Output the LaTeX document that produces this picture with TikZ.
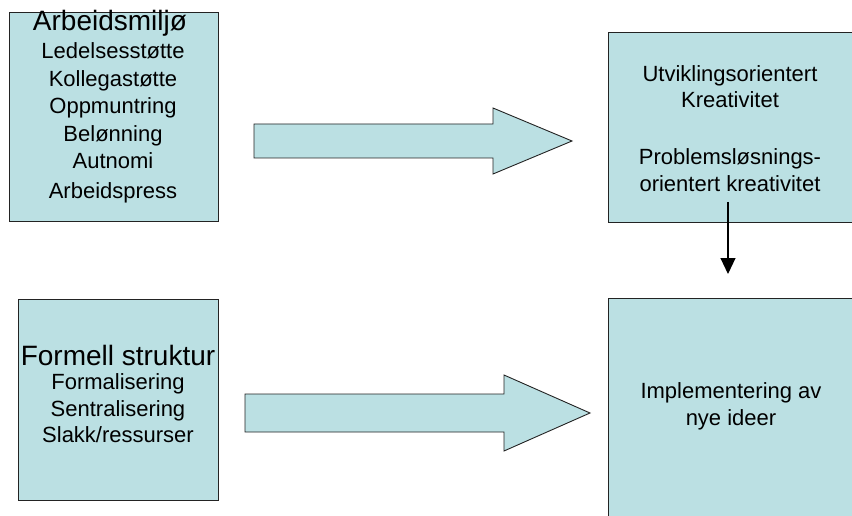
\documentclass[tikz,border=0pt]{standalone}
\usepackage{fontspec}
\setmainfont{Liberation Sans}
\usetikzlibrary{arrows.meta}
\definecolor{boxfill}{RGB}{187,224,227}
\definecolor{edge}{RGB}{35,35,35}
\begin{document}
\begin{tikzpicture}[x=1pt,y=-1pt,
  panel/.style={draw=edge, fill=boxfill, line width=0.9pt, inner sep=0pt, anchor=north west},
  body/.style={anchor=base, inner sep=0pt, font=\fontsize{22}{26}\selectfont},
  head/.style={anchor=base, inner sep=0pt, font=\fontsize{28}{32}\selectfont},
  blockarrow/.style={draw=edge, fill=boxfill, line width=0.9pt, line join=miter},
  link/.style={draw=black, line width=1.1pt, -{Triangle[length=16pt,width=15pt]}}]
\useasboundingbox (0,0) rectangle (852,516);

% boxes
\node[panel, minimum width=209pt, minimum height=209pt] (arbeid) at (9,12) {};
\node[panel, minimum width=252pt, minimum height=190pt] (kreativ) at (608,32) {};
\node[panel, minimum width=200pt, minimum height=201pt] (struktur) at (18,299) {};
\node[panel, minimum width=252pt, minimum height=232pt] (impl) at (608,298) {};

% block arrows
\draw[blockarrow] (254,124) -- (493,124) -- (493,108) -- (572,141) -- (493,174) -- (493,158) -- (254,158) -- cycle;
\draw[blockarrow] (245,394) -- (504,394) -- (504,375) -- (590,413) -- (504,451) -- (504,432) -- (245,432) -- cycle;

% thin arrow from the creativity box towards implementation
\coordinate (kstart) at (728,202);
\coordinate (kend) at (728,274);
\draw[link] (kstart) -- (kend);

% texts: work environment
\node[head] (arbeidT) at (110,31) {Arbeidsmiljø};
\foreach \t/\y [count=\i] in {Ledelsesstøtte/59, Kollegastøtte/87, Oppmuntring/114, Belønning/142, Autnomi/169, Arbeidspress/198}
  \node[body] (arbeid\i) at (113,\y) {\t};

% texts: creativity
\node[body] (kreativ1) at (730,82) {Utviklingsorientert};
\node[body] (kreativ2) at (730,108) {Kreativitet};
\node[body] (kreativ3) at (730,165) {Problemsløsnings-};
\node[body] (kreativ4) at (730,192) {orientert kreativitet};

% texts: formal structure
\node[head] (strukturT) at (118,365) {Formell struktur};
\node[body] (struktur1) at (118,389) {Formalisering};
\node[body] (struktur2) at (118,416) {Sentralisering};
\node[body] (struktur3) at (118,442) {Slakk/ressurser};

% texts: implementation
\node[body] (impl1) at (731,398) {Implementering av};
\node[body] (impl2) at (731,425) {nye ideer};
\end{tikzpicture}
\end{document}
